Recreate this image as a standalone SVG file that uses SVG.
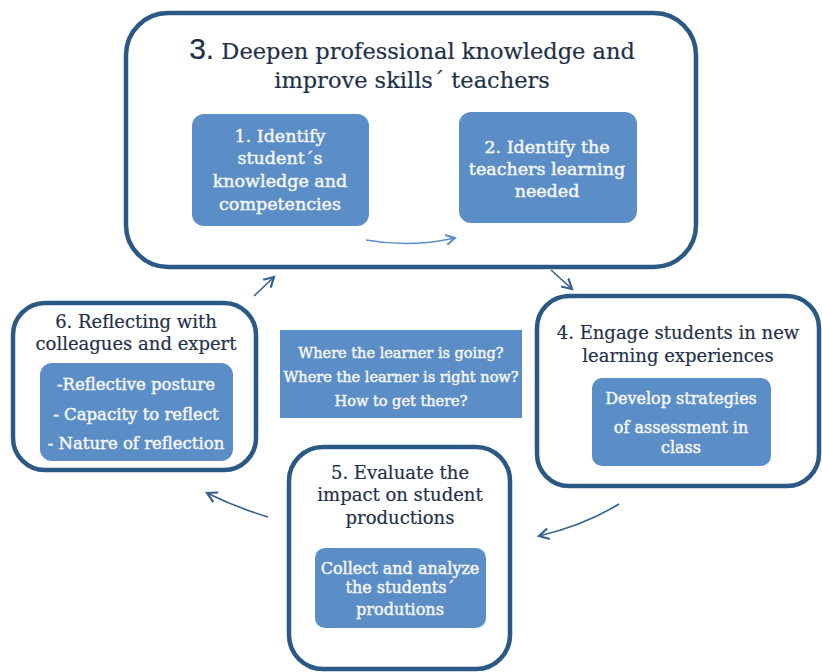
<svg xmlns="http://www.w3.org/2000/svg" width="822" height="672" viewBox="0 0 822 672">
<defs>
<style>
.outer{fill:#ffffff;stroke:#2b5986;stroke-width:4.5}
.inner{fill:#5b8dc7;stroke:none}
.t{font-family:"DejaVu Serif","Liberation Serif",serif;fill:#1f3149;text-anchor:middle;stroke:#1f3149;stroke-width:0.2}
.w{font-family:"DejaVu Serif","Liberation Serif",serif;fill:#f6f8fc;text-anchor:middle;stroke:#f6f8fc;stroke-width:0.45}
.arr{fill:none;stroke:#355f8c;stroke-width:1.6}
.arrl{fill:none;stroke:#5b8dc7;stroke-width:1.6}
</style>
<marker id="ah" viewBox="0 0 12 12" refX="10" refY="6" markerWidth="13" markerHeight="13" markerUnits="userSpaceOnUse" orient="auto">
<path d="M1,1 L10,6 L1,11" fill="none" stroke="#355f8c" stroke-width="2"/>
</marker>
<marker id="ahl" viewBox="0 0 12 12" refX="10" refY="6" markerWidth="12" markerHeight="12" markerUnits="userSpaceOnUse" orient="auto">
<path d="M1,1 L10,6 L1,11" fill="none" stroke="#5b8dc7" stroke-width="2"/>
</marker>
</defs>
<rect width="822" height="672" fill="#ffffff"/>

<g id="node3">
<rect class="outer" x="126" y="13" width="570" height="254" rx="42"/>
<text class="t" x="412" y="59" font-size="22.5"><tspan font-family="Liberation Sans,sans-serif" font-size="30">3.</tspan> Deepen professional knowledge and</text>
<text class="t" x="412" y="88" font-size="22.5">improve skills´ teachers</text>
</g>
<g id="node1">
<rect class="inner" x="192" y="114" width="177" height="112" rx="12"/>
<text class="w" x="280" y="142" font-size="17.5">1. Identify</text>
<text class="w" x="280" y="164" font-size="17.5">student´s</text>
<text class="w" x="280" y="187" font-size="17.5">knowledge and</text>
<text class="w" x="280" y="210" font-size="17.5">competencies</text>
</g>
<g id="node2">
<rect class="inner" x="459" y="112" width="178" height="111" rx="12"/>
<text class="w" x="547" y="153" font-size="17.5">2. Identify the</text>
<text class="w" x="547" y="175" font-size="17.5">teachers learning</text>
<text class="w" x="547" y="197" font-size="17.5">needed</text>
</g>

<g id="node4">
<rect class="outer" x="537" y="296" width="282" height="190" rx="32"/>
<text class="t" x="678" y="339" font-size="18">4. Engage students in new</text>
<text class="t" x="678" y="362" font-size="18">learning experiences</text>
<rect class="inner" x="592" y="378" width="179" height="88" rx="10"/>
<text class="w" x="681" y="404" font-size="16">Develop strategies</text>
<text class="w" x="681" y="433" font-size="16">of assessment in</text>
<text class="w" x="681" y="453" font-size="16">class</text>
</g>

<g id="node6">
<rect class="outer" x="13" y="303" width="243" height="167" rx="32"/>
<text class="t" x="136" y="328" font-size="18">6. Reflecting with</text>
<text class="t" x="136" y="350" font-size="18">colleagues and expert</text>
<rect class="inner" x="40" y="363" width="193" height="98" rx="12"/>
<text class="w" x="136" y="390" font-size="16.5">-Reflective posture</text>
<text class="w" x="136" y="420" font-size="16.5">- Capacity to reflect</text>
<text class="w" x="136" y="449" font-size="16.5">- Nature of reflection</text>
</g>

<g id="center">
<rect class="inner" x="280" y="330" width="242" height="88"/>
<text class="w" x="401" y="358" font-size="14.5">Where the learner is going?</text>
<text class="w" x="401" y="382" font-size="14.5">Where the learner is right now?</text>
<text class="w" x="401" y="406" font-size="14.5">How to get there?</text>
</g>

<g id="node5">
<rect class="outer" x="289" y="447" width="221" height="222" rx="34"/>
<text class="t" x="400" y="479" font-size="18">5. Evaluate the</text>
<text class="t" x="400" y="501" font-size="18">impact on student</text>
<text class="t" x="400" y="524" font-size="18">productions</text>
<rect class="inner" x="315" y="548" width="171" height="80" rx="10"/>
<text class="w" x="400" y="574" font-size="16">Collect and analyze</text>
<text class="w" x="400" y="593" font-size="16">the students´</text>
<text class="w" x="400" y="615" font-size="16">produtions</text>
</g>

<g id="connectors">
<path class="arrl" d="M366,240 Q410,248 455,238" marker-end="url(#ahl)"/>
<path class="arr" d="M551,270 L572,289" marker-end="url(#ah)"/>
<path class="arr" d="M619,504 Q585,525 539,536" marker-end="url(#ah)"/>
<path class="arr" d="M268,517 Q235,507 207,493" marker-end="url(#ah)"/>
<path class="arr" d="M254,296 L274,277" marker-end="url(#ah)"/>
</g>
</svg>
